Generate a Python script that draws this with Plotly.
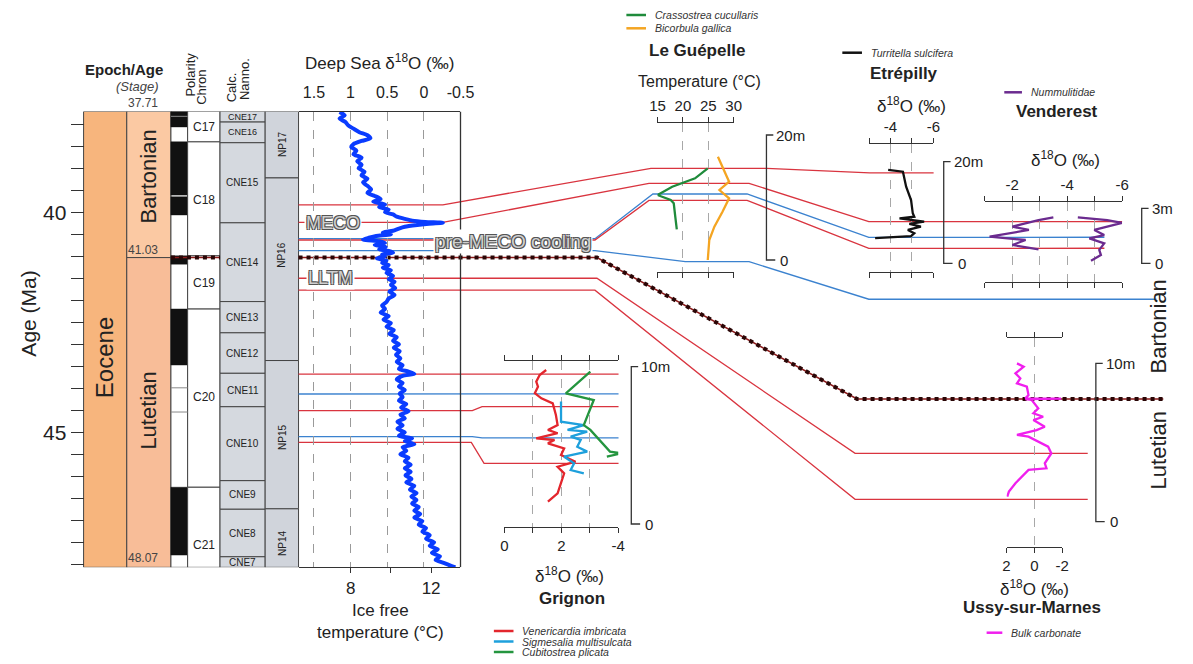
import plotly.graph_objects as go

W, H = 1193, 664
FONT = "Arial, Liberation Sans, sans-serif"

# ---------------- data ----------------
AGE_TOP, AGE_BOT = 37.71, 48.07
STAGE_NAMES = ["Bartonian", "Lutetian"]
STAGE_BOUNDS = [37.71, 41.03, 48.07]
STAGE_LABEL_AGE = [39.18, 44.50]
POLARITY_NORMAL = [(37.71, 38.06), (38.40, 39.61), (39.65, 40.06), (40.99, 41.18),
                   (42.20, 43.47), (46.25, 47.79)]
POLARITY_BREAKS = [37.82, 43.99, 44.54]
CHRONS = ["C17", "C18", "C19", "C20", "C21"]
CHRON_BOUNDS = [37.71, 38.40, 40.99, 42.20, 46.25, 48.07]
CHRON_LABEL_AGE = [38.06, 39.72, 41.61, 44.20, 47.56]
CNE_ZONES = ["CNE17", "CNE16", "CNE15", "CNE14", "CNE13", "CNE12", "CNE11",
             "CNE10", "CNE9", "CNE8", "CNE7"]
CNE_BOUNDS = [37.71, 37.95, 38.42, 40.24, 42.03, 42.74, 43.66, 44.42, 46.10,
              46.75, 47.83, 48.07]
NP_ZONES = ["NP17", "NP16", "NP15", "NP14"]
NP_BOUNDS = [37.71, 39.22, 43.37, 46.74, 48.07]
NP_LABEL_AGE = [38.45, 40.97, 45.11, 47.52]
AGE_TICKS = [38.0 + 0.5 * i for i in range(21)]

# deep sea benthic d18O stack
DS_AGE = [37.72, 37.80, 37.87, 37.95, 38.03, 38.10, 38.18, 38.25, 38.32, 38.38,
          38.45, 38.52, 38.60, 38.68, 38.76, 38.84, 38.92, 39.00, 39.08, 39.16,
          39.24, 39.32, 39.40, 39.48, 39.56, 39.63, 39.70, 39.76, 39.82, 39.88,
          39.94, 40.00, 40.05, 40.10, 40.15, 40.19, 40.22, 40.24, 40.26, 40.29,
          40.33, 40.37, 40.42, 40.46, 40.50, 40.54, 40.58, 40.62, 40.66, 40.70,
          40.74, 40.79, 40.84, 40.88, 40.92, 40.96, 41.00, 41.05, 41.10, 41.15,
          41.20, 41.26, 41.32, 41.38, 41.45, 41.52, 41.58, 41.65, 41.72, 41.80,
          41.88, 41.96, 42.04, 42.12, 42.20, 42.28, 42.36, 42.44, 42.52, 42.60,
          42.68, 42.76, 42.84, 42.92, 43.00, 43.08, 43.16, 43.24, 43.32, 43.40,
          43.48, 43.56, 43.62, 43.67, 43.72, 43.80, 43.88, 43.96, 44.04, 44.12,
          44.20, 44.28, 44.36, 44.44, 44.52, 44.60, 44.68, 44.76, 44.84, 44.92,
          45.00, 45.08, 45.14, 45.20, 45.27, 45.34, 45.42, 45.50, 45.58, 45.66,
          45.74, 45.82, 45.90, 45.98, 46.06, 46.14, 46.22, 46.30, 46.38, 46.46,
          46.54, 46.62, 46.70, 46.78, 46.86, 46.94, 47.02, 47.10, 47.18, 47.26,
          47.34, 47.42, 47.50, 47.58, 47.66, 47.74, 47.82, 47.90, 47.97, 48.04,
          48.07]
DS_D18O = [1.15, 1.08, 1.15, 1.07, 1.03, 0.96, 0.88, 0.77, 0.73, 0.85,
           0.96, 0.99, 0.92, 0.96, 0.85, 0.91, 0.85, 0.89, 0.81, 0.85,
           0.77, 0.83, 0.77, 0.72, 0.77, 0.67, 0.59, 0.69, 0.53, 0.61,
           0.48, 0.53, 0.42, 0.37, 0.26, 0.16, -0.02, -0.26, -0.07, 0.09,
           0.26, 0.34, 0.42, 0.56, 0.45, 0.65, 0.75, 0.83, 0.61, 0.53,
           0.67, 0.52, 0.61, 0.48, 0.42, 0.57, 0.53, 0.64, 0.51, 0.57,
           0.48, 0.56, 0.45, 0.51, 0.42, 0.48, 0.40, 0.45, 0.39, 0.47,
           0.40, 0.48, 0.51, 0.57, 0.53, 0.59, 0.48, 0.55, 0.45, 0.51,
           0.41, 0.47, 0.37, 0.42, 0.34, 0.41, 0.33, 0.38, 0.32, 0.37,
           0.29, 0.34, 0.21, 0.13, 0.29, 0.37, 0.29, 0.34, 0.26, 0.33,
           0.29, 0.34, 0.24, 0.31, 0.21, 0.32, 0.26, 0.36, 0.29, 0.36,
           0.26, 0.34, 0.16, 0.26, 0.13, 0.29, 0.24, 0.32, 0.21, 0.26,
           0.18, 0.26, 0.18, 0.25, 0.17, 0.24, 0.13, 0.19, 0.10, 0.17,
           0.10, 0.16, 0.07, 0.13, 0.05, 0.13, 0.02, 0.07, -0.03, 0.02,
           -0.08, -0.03, -0.14, -0.08, -0.19, -0.11, -0.22, -0.16, -0.27, -0.38,
           -0.43]

# Grignon (d18O, m)
GR_VEN_D = [-1.47, -1.24, -1.12, -1.18, -1.07, -1.30, -1.70, -1.81, -1.87, -1.53, -1.87,
            -1.12, -1.76, -1.53, -2.10, -1.99, -2.50, -1.87, -2.10, -1.99, -1.87, -1.53]
GR_VEN_M = [9.79, 9.47, 9.05, 8.73, 8.31, 7.99, 7.67, 6.93, 6.29, 5.98, 5.77,
            5.45, 5.34, 5.13, 4.81, 4.39, 3.96, 3.64, 3.22, 2.59, 1.95, 1.42]
GR_SIG_D = [-1.99, -1.99, -2.79, -2.22, -2.91, -2.33, -2.68, -2.56, -2.91, -2.10, -2.45, -2.33, -2.79]
GR_SIG_M = [7.78, 6.50, 6.29, 5.98, 5.87, 5.55, 5.34, 4.91, 4.60, 4.28, 3.86, 3.43, 3.22]
GR_CUB_D = [-3.02, -2.16, -3.14, -2.79, -3.02, -3.71, -4.11, -3.60]
GR_CUB_M = [9.68, 8.31, 7.88, 6.29, 5.98, 4.60, 4.49, 4.28]

# Le Guepelle (temperature, m)
LG_CRA_T = [24.9, 22.4, 17.9, 15.0, 17.6, 18.2, 18.5, 18.8]
LG_CRA_M = [14.67, 13.07, 11.73, 10.40, 9.60, 9.07, 6.93, 4.91]
LG_BIC_T = [26.9, 27.8, 29.1, 27.2, 29.1, 27.8, 26.2, 25.2, 24.9]
LG_BIC_M = [16.53, 14.93, 12.53, 11.20, 9.87, 7.73, 5.33, 3.20, 0.0]

# Etrepilly (d18O, m)
ET_TUR_D = [-3.89, -4.58, -4.73, -4.96, -5.04, -5.11, -4.42, -5.57, -4.88, -5.42,
            -4.81, -5.11, -4.96, -3.28]
ET_TUR_M = [18.37, 18.03, 15.08, 12.46, 9.84, 9.18, 8.86, 8.20, 7.74, 7.21,
            6.56, 5.90, 5.35, 4.94]

# Venderest (d18O, m) two groups
VD_NUM_D = [-3.50, -2.96, -2.37, -2.01, -2.61, -1.18, -2.49, -2.01, -2.96, None,
            -4.39, -5.46, -6.00, -5.46, -4.99, -5.35, -4.81, -5.35, -5.17, -5.23, -4.87]
VD_NUM_M = [2.51, 2.36, 2.14, 2.00, 1.82, 1.45, 1.27, 1.00, 0.76, None,
            2.51, 2.36, 2.21, 2.00, 1.82, 1.54, 1.36, 1.09, 0.73, 0.45, 0.14]

# Ussy-sur-Marnes (d18O, m)
US_BULK_D = [1.25, 0.77, 1.36, 1.01, 1.25, 0.54, 0.42, 0.65, -1.92, 0.65, 0.19, -0.28,
             0.07, -0.63, 0.07, -0.75, -0.16, 1.25, 0.42, -0.99, -1.22, -0.75, -0.87,
             0.42, 1.36, 1.83, 1.95]
US_BULK_M = [10.0, 9.79, 9.37, 9.06, 8.74, 8.53, 8.00, 7.79, 7.77, 7.75, 7.69, 7.16,
             6.85, 6.63, 6.42, 6.00, 5.79, 5.48, 5.37, 4.74, 4.32, 3.69, 3.37,
             3.27, 2.43, 1.90, 1.58]

# correlation horizons: age in the deep-sea record and level (m) at each section
CORR_KIND = ["red", "red", "blue", "red", "blue", "bound", "red", "red",
             "red", "blue", "red", "blue", "red"]
CORR_AGE = [39.83, 40.23, 40.60, 40.63, 40.87, 41.03, 41.50, 41.77,
            43.68, 44.13, 44.51, 45.10, 45.23]
LG_LEVEL = [14.67, 12.27, 10.56, 9.54, -0.27, None, None, None, None, None, None, None, None]
ET_LEVEL = [17.8, 8.2, 5.1, 2.95, None, None, None, None, None, None, None, None, None]
VD_LEVEL = [None, 2.27, 1.42, 0.82, -1.96, None, None, None, None, None, None, None, None]
US_LEVEL = [None, None, None, None, None, 7.75, 4.32, 1.41, None, None, None, None, None]
GR_LEVEL = [None, None, None, None, None, None, None, None, 9.53, 8.27, 7.46, 5.47, 3.85]

# ---------------- layout geometry (pixels) ----------------
Y_TOP, PX_PER_MA = 111.5, 44.0


def age_px(a):
    return Y_TOP + (a - AGE_TOP) * PX_PER_MA


def px_age(p):
    return AGE_TOP + (p - Y_TOP) / PX_PER_MA


def pf(p):
    return 1 - p / H


SITE = {
    "GR": dict(ax=4, x=(505.7, 621.7), y=(360.7, 526.7), zero=524.0, ppm=15.73, level=GR_LEVEL),
    "LG": dict(ax=5, x=(661.7, 739.3), y=(123.3, 271.7), zero=260.0, ppm=6.25, level=LG_LEVEL),
    "ET": dict(ax=6, x=(877.3, 942.7), y=(144.0, 271.7), zero=263.3, ppm=5.08, level=ET_LEVEL),
    "VD": dict(ax=7, x=(995.0, 1135.0), y=(201.7, 281.7), zero=263.3, ppm=18.33, level=VD_LEVEL),
    "US": dict(ax=8, x=(1017.3, 1074.0), y=(338.3, 546.7), zero=521.7, ppm=15.83, level=US_LEVEL),
}


def site_age(site, m):
    s = SITE[site]
    return px_age(s["zero"] - m * s["ppm"])


ROUTES = [
    [(296, None), (443, None), (655, "LG"), (773, "LG"), (878, "ET"), (943, "ET")],
    [(296, None), (443, None), (653, "LG"), (755, "LG"), (877, "ET"), (1135, "VD")],
    [(296, None), (598, None), (657, "LG"), (753, "LG"), (877, "ET"), (1117, "VD")],
    [(296, None), (598, None), (653, "LG"), (753, "LG"), (877, "ET"), (1117, "VD")],
    [(296, None), (598, None), (690, "LG"), (755, "LG"), (877, "VD"), (1170, "VD")],
    [(296, None), (600, None), (865, "US"), (1177, "US")],
    [(296, None), (600, None), (863, "US"), (1100, "US")],
    [(296, None), (598, None), (863, "US"), (1100, "US")],
    [(296, None), (473, None), (483, "GR"), (622, "GR")],
    [(296, None), (473, None), (483, "GR"), (622, "GR")],
    [(296, None), (473, None), (483, "GR"), (622, "GR")],
    [(296, None), (473, None), (483, "GR"), (622, "GR")],
    [(296, None), (472, None), (485, "GR"), (622, "GR")],
]

RED, BLUE = "#d9343f", "#3b82cf"
BOUND = "#2a0606"

fig = go.Figure()

# correlation lines on the canvas axis (x in px, y in Ma)
for i, route in enumerate(ROUTES):
    xs, ys = [], []
    for xp, site in route:
        xs.append(xp)
        ys.append(CORR_AGE[i] if site is None else site_age(site, SITE[site]["level"][i]))
    if CORR_KIND[i] == "bound":
        for seg in ([166, 216], None):
            sx = seg if seg else xs
            sy = [CORR_AGE[i]] * 2 if seg else ys
            fig.add_trace(go.Scatter(x=sx, y=sy, mode="lines", line=dict(color="#8b1a1a", width=1.5),
                                     hoverinfo="skip", xaxis="x", yaxis="y"))
            fig.add_trace(go.Scatter(x=sx, y=sy, mode="lines", line=dict(color=BOUND, width=4, dash="dot"),
                                     hoverinfo="skip", xaxis="x", yaxis="y"))
    else:
        fig.add_trace(go.Scatter(x=xs, y=ys, mode="lines",
                                 line=dict(color=RED if CORR_KIND[i] == "red" else BLUE, width=1.3),
                                 hoverinfo="skip", xaxis="x", yaxis="y"))

# deep sea curve
fig.add_trace(go.Scatter(x=DS_D18O, y=DS_AGE, mode="lines",
                         line=dict(color="#0a3cff", width=4, shape="spline", smoothing=0.6),
                         xaxis="x2", yaxis="y", hoverinfo="skip"))
# empty trace so the temperature axis below the deep-sea panel is drawn
fig.add_trace(go.Scatter(x=[None], y=[None], mode="lines", xaxis="x3", yaxis="y", hoverinfo="skip"))

# sections
site_traces = [
    ("GR", GR_VEN_D, GR_VEN_M, "#e3262d"), ("GR", GR_SIG_D, GR_SIG_M, "#1ea0dc"),
    ("GR", GR_CUB_D, GR_CUB_M, "#24953f"),
    ("LG", LG_CRA_T, LG_CRA_M, "#1f8b3b"), ("LG", LG_BIC_T, LG_BIC_M, "#f4a522"),
    ("ET", ET_TUR_D, ET_TUR_M, "#111111"),
    ("VD", VD_NUM_D, VD_NUM_M, "#6b2b8f"),
    ("US", US_BULK_D, US_BULK_M, "#f01fee"),
]
for site, xv, mv, col in site_traces:
    n = SITE[site]["ax"]
    fig.add_trace(go.Scatter(x=xv, y=mv, mode="lines", line=dict(color=col, width=2.3),
                             xaxis=f"x{n}", yaxis=f"y{n}", hoverinfo="skip", connectgaps=False))

# ---------------- axes ----------------
lay = dict(
    xaxis=dict(domain=[0, 1], range=[0, W], visible=False, anchor="y"),
    yaxis=dict(domain=[pf(age_px(AGE_BOT)), pf(Y_TOP)], range=[AGE_BOT, AGE_TOP],
               anchor="free", position=77 / W, showline=False, showgrid=False, zeroline=False,
               ticks="outside", ticklen=13, tickwidth=1.3, tickcolor="#333",
               tickvals=AGE_TICKS, ticktext=["40" if t == 40 else "45" if t == 45 else "" for t in AGE_TICKS],
               tickfont=dict(size=21, color="#222")),
    xaxis2=dict(domain=[296 / W, 461 / W], range=[1.71, -0.5], anchor="y", side="top",
                showline=True, linecolor="#333", linewidth=1.3, ticks="",
                tickvals=[1.5, 1, 0.5, 0, -0.5], ticktext=["1.5", "1", "0.5", "0", "-0.5"],
                ticklabelstandoff=6, showgrid=True, gridcolor="#9a9a9a", griddash="dash",
                gridwidth=1, zeroline=False, tickfont=dict(size=16, color="#222")),
    xaxis3=dict(domain=[296 / W, 461 / W], range=[5.41, 13.46], anchor="y", overlaying="x2",
                side="bottom", showline=True, linecolor="#333", linewidth=1.3, ticks="outside",
                ticklen=5, tickcolor="#333", tickvals=[8, 10, 12], ticktext=["8", "", "12"],
                showgrid=False, zeroline=False, tickfont=dict(size=17, color="#222")),
)
SITE_TICKS = {
    "GR": ([0, -1, -2, -3, -4], ["0", "", "2", "", "-4"], "bottom", [0, -4]),
    "LG": ([15, 20, 25, 30], ["15", "20", "25", "30"], "top", [15, 30]),
    "ET": ([-3, -4, -5, -6], ["", "-4", "", "-6"], "top", [-3, -6]),
    "VD": ([-1, -2, -3, -4, -5, -6], ["", "-2", "", "-4", "", "-6"], "top", [-1, -6]),
    "US": ([2, 0, -2], ["2", "0", "-2"], "bottom", [2, -2]),
}
for site, s in SITE.items():
    n = s["ax"]
    tv, tt, side, xr = SITE_TICKS[site]
    lay[f"xaxis{n}"] = dict(domain=[s["x"][0] / W, s["x"][1] / W], range=xr, anchor=f"y{n}",
                            side=side, showline=True, linecolor="#333", linewidth=1.3,
                            mirror="ticks", ticks="outside", ticklen=5, tickcolor="#333",
                            tickvals=tv, ticktext=tt, showgrid=True, gridcolor="#a8a8a8",
                            griddash="dash", gridwidth=1, zeroline=False,
                            tickfont=dict(size=15, color="#222"))
    lay[f"yaxis{n}"] = dict(domain=[pf(s["y"][1]), pf(s["y"][0])],
                            range=[(s["zero"] - s["y"][1]) / s["ppm"], (s["zero"] - s["y"][0]) / s["ppm"]],
                            anchor=f"x{n}", visible=False)

# ---------------- shapes ----------------
S = []


def rect(x0, x1, a0, a1, fill, line="#444", width=1):
    S.append(dict(type="rect", xref="x", yref="y", x0=x0, x1=x1, y0=a0, y1=a1, fillcolor=fill,
                  line=dict(color=line, width=width), layer="below"))


rect(77, 121, AGE_TOP, AGE_BOT, "#f7b57d")
for k, col in enumerate(["#fbc9a3", "#f8bd98"]):
    rect(121, 166, STAGE_BOUNDS[k], STAGE_BOUNDS[k + 1], col)
rect(166, 183, AGE_TOP, AGE_BOT, "white")
for a0, a1 in POLARITY_NORMAL:
    rect(166, 183, a0, a1, "#111111", line="#111111", width=0.5)
for a in POLARITY_BREAKS:
    S.append(dict(type="line", xref="x", yref="y", x0=166, x1=183, y0=a, y1=a,
                  line=dict(color="#888", width=1)))
for k in range(len(CHRONS)):
    rect(183, 216, CHRON_BOUNDS[k], CHRON_BOUNDS[k + 1], "white")
for k in range(len(CNE_ZONES)):
    rect(216, 262, CNE_BOUNDS[k], CNE_BOUNDS[k + 1], "#d5d9df")
for k in range(len(NP_ZONES)):
    rect(262, 296, NP_BOUNDS[k], NP_BOUNDS[k + 1], "#d0d4db")
S.append(dict(type="line", xref="x", yref="y", x0=461, x1=461, y0=AGE_TOP, y1=AGE_BOT,
              line=dict(color="#333", width=1.3)))

# metre scale brackets
BRACKETS = [("GR", 635, 10, "10m"), ("LG", 772.7, 20, "20m"), ("ET", 953.3, 20, "20m"),
            ("VD", 1155, 3, "3m"), ("US", 1108.3, 10, "10m")]
A = []


def label(text, x, y, size=14, color="#222", angle=0, xanchor="center", yref="paper", **kw):
    A.append(dict(text=text, x=x, y=pf(y) if yref == "paper" else y, xref="x", yref=yref,
                  showarrow=False, textangle=angle, xanchor=xanchor, yanchor="middle",
                  font=dict(size=size, color=color, family=FONT), **kw))


for site, bx, top, txt in BRACKETS:
    n = SITE[site]["ax"]
    S.append(dict(type="path", xref="x", yref=f"y{n}",
                  path=f"M {bx + 7},{top} L {bx},{top} L {bx},0 L {bx + 9},0",
                  line=dict(color="#333", width=1.3)))
    label(txt, bx + 8, top, size=15, xanchor="left", yref=f"y{n}")
    label("0", bx + 12, 0, size=15, xanchor="left", yref=f"y{n}")

# legend samples
LEGEND = [
    (630, 650, 15, "#1f8b3b", "Crassostrea cucullaris"),
    (630, 650, 28.3, "#f4a522", "Bicorbula gallica"),
    (850, 870, 52.7, "#111111", "Turritella sulcifera"),
    (1015, 1033, 92.3, "#6b2b8f", "Nummulitidae"),
    (495, 515, 631, "#e3262d", "Venericardia imbricata"),
    (495, 515, 641.5, "#1ea0dc", "Sigmesalia multisulcata"),
    (495, 515, 652, "#24953f", "Cubitostrea plicata"),
    (997, 1013, 632.7, "#f01fee", "Bulk carbonate"),
]
for x0, x1, yp, col, name in LEGEND:
    S.append(dict(type="line", xref="x", yref="paper", x0=x0, x1=x1, y0=pf(yp), y1=pf(yp),
                  line=dict(color=col, width=2.5)))
    label(f"<i>{name}</i>", x1 + 7, yp, size=10.5, color="#333", xanchor="left")

# ---------------- text ----------------
D18 = "δ<sup>18</sup>O (‰)"
label("Age (Ma)", 20, 314, size=21, angle=-90)
label("<b>Epoch/Age</b>", 118, 70, size=15)
label("<i>(Stage)</i>", 132, 87, size=13, color="#444")
label("37.71", 138, 103, size=12, color="#444")
label("41.03", 138, 250, size=12, color="#444")
label("48.07", 138, 558, size=12, color="#444")
label("Polarity", 186, 75, size=13, angle=-90)
label("Chron", 197.5, 87, size=13, angle=-90)
label("Calc.", 228.5, 87, size=13, angle=-90)
label("Nanno.", 240.5, 79, size=13, angle=-90)
label("Eocene", 98.5, 43.3, size=24, angle=-90, yref="y")
for k, name in enumerate(STAGE_NAMES):
    label(name, 143, STAGE_LABEL_AGE[k], size=22, angle=-90, yref="y")
for k, name in enumerate(CHRONS):
    label(name, 200, CHRON_LABEL_AGE[k], size=12, yref="y")
for k, name in enumerate(CNE_ZONES):
    label(name, 239, (CNE_BOUNDS[k] + CNE_BOUNDS[k + 1]) / 2, size=10 if k > 1 else 9, yref="y")
for k, name in enumerate(NP_ZONES):
    label(name, 279, NP_LABEL_AGE[k], size=10, angle=-90, yref="y")

label("Deep Sea " + D18, 378, 62, size=17)
label("Ice free<br>temperature (°C)", 380, 621, size=17)
OUTLINE = "1px 1px 0 #555, -1px -1px 0 #555, 1px -1px 0 #555, -1px 1px 0 #555"
for txt, x, y, sz in [("MECO", 331, 222.7, 18), ("LLTM", 329, 278.3, 18),
                      ("pre-MECO cooling", 514, 241.5, 19)]:
    A.append(dict(text=txt, x=x, y=pf(y), xref="x", yref="paper", showarrow=False,
                  bgcolor="white", borderpad=1,
                  font=dict(size=sz, color="#d0d0d0", family=FONT, shadow=OUTLINE)))

label(D18, 572, 575, size=17)
label("<b>Grignon</b>", 575, 598, size=17)
label("<b>Le Guépelle</b>", 702, 50, size=17)
label("Temperature (°C)", 704, 82, size=16)
label("<b>Etrépilly</b>", 913, 73, size=17)
label(D18, 920, 105, size=17)
label("<b>Venderest</b>", 1069, 112, size=17)
label(D18, 1077, 159, size=17)
label(D18, 1046, 588, size=17)
label("<b>Ussy-sur-Marnes</b>", 1043, 607, size=17)
label("Lutetian", 1172, 450, size=22, angle=-90)
label("Bartonian", 1172, 326, size=22, angle=-90)

fig.update_layout(**lay)
fig.update_layout(width=W, height=H, margin=dict(l=0, r=0, t=0, b=0), showlegend=False,
                  paper_bgcolor="white", plot_bgcolor="rgba(0,0,0,0)",
                  font=dict(family=FONT, color="#222"), shapes=S, annotations=A)

# drop the default page margin so the figure sits at the window origin
fig.write_html("out.html", config={"displayModeBar": False},
               post_script="document.body.style.margin='0';")
